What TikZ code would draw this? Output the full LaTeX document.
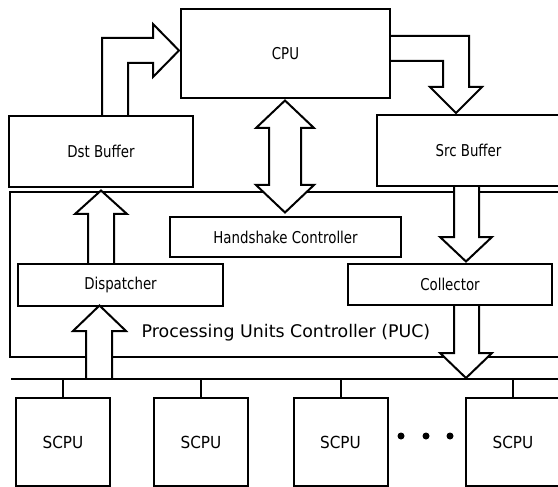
\documentclass[tikz,border=0pt]{standalone}
\usepackage{fontspec}
\setmainfont{DejaVu Sans}
\newfontfamily\narrowfont[FakeStretch=0.82]{DejaVu Sans}
\newfontfamily\scpufont[FakeStretch=0.92]{DejaVu Sans}
\usetikzlibrary{calc}
\pgfdeclarelayer{puclayer}
\pgfdeclarelayer{arrowlayer}
\pgfsetlayers{puclayer,arrowlayer,main}
\begin{document}
\begin{tikzpicture}[x=1pt,y=-1pt, line width=2pt, line join=miter,
  box/.style={draw, line width=2pt, inner sep=0pt, font=\narrowfont\fontsize{16.3}{18}\selectfont},
  scpubox/.style={draw, line width=2pt, inner sep=0pt, minimum width=94pt, minimum height=88pt, font=\scpufont\fontsize{16.6}{18}\selectfont},
  puclabel/.style={inner sep=0pt, font=\fontsize{17.4}{20}\selectfont},
  dotnode/.style={circle, fill=black, inner sep=0pt, minimum size=7pt},
  fat/.style={draw, fill=white, line width=2pt, line join=miter},
  busline/.style={line width=2pt}]
\useasboundingbox (0,0) rectangle (558,487);

% main boxes
\node[box, minimum width=209pt, minimum height=89pt] (cpu) at (285.5,53.5) {CPU};
\node[box, minimum width=184pt, minimum height=71pt] (dst) at (101,151.5) {Dst Buffer};
\node[box, minimum width=183pt, minimum height=71pt] (src) at (468.5,150.5) {Src Buffer};
\node[box, minimum width=231pt, minimum height=40pt] (hs) at (285.5,237) {Handshake Controller};
\node[box, minimum width=205pt, minimum height=42pt] (disp) at (120.5,285) {Dispatcher};
\node[box, minimum width=204pt, minimum height=41pt] (coll) at (450,284.5) {Collector};
\node[puclabel] (puclab) at (286,333) {Processing Units Controller (PUC)};

% PUC outer box
\begin{pgfonlayer}{puclayer}
\node[draw, line width=2pt, minimum width=556pt, minimum height=165pt] (puc) at (288,274.5) {};
\end{pgfonlayer}

% SCPUs
\node[scpubox] (s1) at (63,442) {SCPU};
\node[scpubox] (s2) at (201,442) {SCPU};
\node[scpubox] (s3) at (340.5,442) {SCPU};
\node[scpubox] (s4) at (513,442) {SCPU};
\node[dotnode] (d1) at (401,436) {};
\node[dotnode] (d2) at (426,436) {};
\node[dotnode] (d3) at (450,436) {};

% bus
\coordinate (busL) at (11,379);
\coordinate (busR) at (562,379);
\draw[busline] (busL) -- (busR);
\draw[busline] (s1.north) -- (s1.north |- busL);
\draw[busline] (s2.north) -- (s2.north |- busL);
\draw[busline] (s3.north) -- (s3.north |- busL);
\draw[busline] (s4.north) -- (s4.north |- busL);

% fat arrows
\begin{pgfonlayer}{arrowlayer}
% Dst -> CPU
\filldraw[fat] (dst.north -| 102,0) -- (102,38) -- (153,38) -- (153,24) -- (179,50.5) -- (153,77) -- (153,63) -- (128,63) -- (dst.north -| 128,0);
% CPU -> Src
\filldraw[fat] (cpu.east |- 0,36) -- (469,36) -- (469,87) -- (482,87) -- (456,113) -- (430,87) -- (443,87) -- (443,61) -- (cpu.east |- 0,61);
% CPU <-> Handshake
\filldraw[fat] (285,100.5) -- (314,128) -- (301,128) -- (301,185) -- (314,185) -- (285,212.5) -- (256,185) -- (269,185) -- (269,128) -- (256,128) -- cycle;
% Dispatcher -> Dst
\filldraw[fat] (disp.north -| 88,0) -- (88,214) -- (75,214) -- (101,190.5) -- (127,214) -- (114,214) -- (disp.north -| 114,0);
% bus -> Dispatcher
\filldraw[fat] (busL -| 86,0) -- (86,331) -- (73,331) -- (99.5,305.5) -- (126,331) -- (112,331) -- (busL -| 112,0);
% Src -> Collector
\filldraw[fat] (src.south -| 454,0) -- (454,237) -- (440,237) -- (466,261.5) -- (492,237) -- (479,237) -- (src.south -| 479,0);
% Collector -> bus
\filldraw[fat] (coll.south -| 454,0) -- (454,353) -- (440,353) -- (466,378) -- (492,353) -- (479,353) -- (coll.south -| 479,0);
\end{pgfonlayer}
\end{tikzpicture}
\end{document}
